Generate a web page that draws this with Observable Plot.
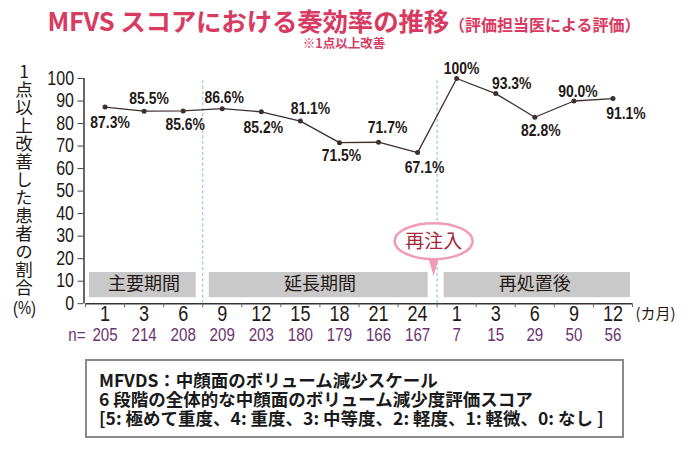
<!DOCTYPE html>
<html>
<head>
<meta charset="utf-8">
<script src="https://cdn.jsdelivr.net/npm/d3@7"></script>
<script src="https://cdn.jsdelivr.net/npm/@observablehq/plot@0.6"></script>
<style>
  body { margin: 0; background: #fff; }
  #wrap { position: relative; width: 688px; height: 449px; font-family: "Noto Sans CJK JP", sans-serif; overflow: hidden; }
  #title { position: absolute; left: 0; top: 5px; width: 688px; text-align: center; color: #d73b62; font-weight: 700; font-size: 25.5px; line-height: 30px; white-space: nowrap; letter-spacing: -0.2px; }
  #title .paren { font-size: 16px; letter-spacing: 0; }
  #subtitle { position: absolute; left: 0; top: 35px; width: 688px; text-align: center; color: #d73b62; font-weight: 700; font-size: 12.5px; line-height: 16px; }
  #chart { position: absolute; left: 0; top: 56px; }
  #note { position: absolute; left: 85px; top: 359px; width: 539px; height: 79px; box-sizing: border-box; border: 2px solid #8a8a8a; padding: 9px 0 0 12px; font-size: 17.5px; line-height: 19px; font-weight: 700; color: #1a1a1a; white-space: nowrap; }
</style>
</head>
<body>
<div id="wrap">
  <div id="title"></div>
  <div id="subtitle"></div>
  <div id="chart"></div>
  <div id="note"></div>
</div>
<script>
// ---- data ----
const monthLabels = ["1", "3", "6", "9", "12", "15", "18", "21", "24", "1", "3", "6", "9", "12"];
const responseRates = [87.3, 85.5, 85.6, 86.6, 85.2, 81.1, 71.5, 71.7, 67.1, 100, 93.3, 82.8, 90.0, 91.1];
const sampleSizes = [205, 214, 208, 209, 203, 180, 179, 166, 167, 7, 15, 29, 50, 56];
const periodNames = ["主要期間", "延長期間", "再処置後"];
const periodStart = [0, 3, 9];
const periodEnd = [2, 8, 13];
const phaseBreaks = [2.5, 8.5];
const yTicks = [0, 10, 20, 30, 40, 50, 60, 70, 80, 90, 100];
const titleMain = "MFVS スコアにおける奏効率の推移";
const titleParen = "（評価担当医による評価）";
const subtitleText = "※1点以上改善";
const yTitle = "1点以上改善した患者の割合";
const yUnit = "(%)";
const xUnit = "(カ月)";
const nPrefix = "n=";
const calloutText = "再注入";
const noteLines = [
  "MFVDS：中顔面のボリューム減少スケール",
  "6 段階の全体的な中顔面のボリューム減少度評価スコア",
  "[5: 極めて重度、4: 重度、3: 中等度、2: 軽度、1: 軽微、0: なし ]"
];

// ---- styling (label offsets in px, box insets in px) ----
const labelOffsets = [[5,15],[5,-13],[2,14],[2,-11],[2,16],[10,-13],[2,13],[9,-15],[7,15],[5,-10],[16,-10],[6,13],[4,-9],[13,15]];
const boxInsets = [[4,6.5],[6.5,9],[7,2]];
const condense = 0.82;

const narrow = "'Liberation Sans',Arial,sans-serif";
const cjk = "'Noto Sans CJK JP',sans-serif";
const ink = "#231815";

document.getElementById("title").innerHTML = titleMain + '<span class="paren">' + titleParen + '</span>';
document.getElementById("subtitle").textContent = subtitleText;
document.getElementById("note").innerHTML = noteLines.map(l => "<div>" + l + "</div>").join("");

const data = monthLabels.map((m, i) => ({i, m, v: responseRates[i], n: sampleSizes[i]}));
const fmt = v => (v === 100 ? "100" : v.toFixed(1)) + "%";

// callout bubble above the re-injection boundary
const callout = (index, scales) => {
  const g = d3.create("svg:g");
  const cx = scales.x(phaseBreaks[1]) - 3;
  const tipY = scales.y(0) - 27;
  const cy = tipY - 35;
  g.append("path")
    .attr("d", `M${cx - 6},${cy + 14} L${cx},${tipY} L${cx + 6},${cy + 14} Z`)
    .attr("fill", "#f29bb6");
  g.append("ellipse")
    .attr("cx", cx).attr("cy", cy).attr("rx", 39).attr("ry", 18)
    .attr("fill", "#fff").attr("stroke", "#f29bb6").attr("stroke-width", 2.5);
  g.append("text")
    .attr("x", cx).attr("y", cy).attr("dy", "0.35em")
    .attr("text-anchor", "middle")
    .attr("font-family", cjk).attr("font-size", 19).attr("fill", "#a6273c")
    .text(calloutText);
  return g.node();
};

// vertical (tategaki) y-axis title
const yTitleMark = (index, scales) => {
  const g = d3.create("svg:g");
  g.append("text")
    .attr("x", scales.x(-0.5) - 61)
    .attr("y", scales.y(100) - 15)
    .attr("text-anchor", "start")
    .attr("font-family", cjk).attr("font-size", 17.5).attr("fill", ink)
    .attr("letter-spacing", 0.5)
    .style("writing-mode", "vertical-rl")
    .style("text-orientation", "upright")
    .text(yTitle);
  return g.node();
};

const marks = [
  // period boxes
  ...periodNames.map((p, k) => Plot.rect([p], {
    x1: periodStart[k] - 0.5, x2: periodEnd[k] + 0.5,
    fill: "#c9c9c9", insetTop: 194, insetBottom: 6,
    insetLeft: boxInsets[k][0], insetRight: boxInsets[k][1]
  })),
  Plot.text(periodNames, {
    x: (d, k) => (periodStart[k] + periodEnd[k]) / 2,
    frameAnchor: "bottom", lineAnchor: "middle", dy: -19, fontSize: 18, fill: ink, fontFamily: cjk
  }),
  // phase separators
  Plot.ruleX(phaseBreaks, {y1: 0, y2: 100, stroke: "#9dc3e2", strokeWidth: 1.2, strokeDasharray: "3,2.5"}),
  // axes lines
  Plot.ruleY([0], {stroke: "#333", strokeWidth: 1.5}),
  Plot.ruleX([-0.5], {y1: 0, y2: 100, stroke: "#333", strokeWidth: 1.5, dx: -1.5}),
  Plot.axisY({ticks: yTicks, tickSize: 6, tickPadding: 4, fontSize: 19.5, fontFamily: narrow, fill: ink, stroke: "#444", label: null, dx: -1.5}),
  Plot.axisX({ticks: d3.range(-0.5, 14, 1), tickSize: 4, tickFormat: () => "", stroke: "#666", label: null}),
  Plot.text(data, {x: "i", text: "m", frameAnchor: "bottom", lineAnchor: "middle", dy: 10, fontSize: 22, fontFamily: narrow, fill: ink}),
  // series
  Plot.line(data, {x: "i", y: "v", stroke: "#3e2f2f", strokeWidth: 1.3}),
  Plot.dot(data, {x: "i", y: "v", r: 2.5, fill: "#3e2f2f"}),
  ...data.map((d, k) => Plot.text([d], {
    x: "i", y: "v", text: dd => fmt(dd.v),
    dx: labelOffsets[k][0], dy: labelOffsets[k][1],
    fontSize: 17, fontWeight: "bold", fontFamily: narrow, fill: ink
  })),
  // sample sizes
  Plot.text(data, {x: "i", text: d => String(d.n), frameAnchor: "bottom", lineAnchor: "middle", dy: 31, fontSize: 18.5, fontFamily: narrow, fill: "#6b3570"}),
  Plot.text([nPrefix], {frameAnchor: "bottom-left", textAnchor: "end", lineAnchor: "middle", dy: 31, fontSize: 18.5, fontFamily: narrow, fill: "#6b3570"}),
  Plot.text([xUnit], {frameAnchor: "bottom-right", textAnchor: "start", lineAnchor: "middle", dx: 3, dy: 10, fontSize: 15, fontFamily: cjk, fill: ink}),
  // y title
  yTitleMark,
  Plot.text([yUnit], {frameAnchor: "bottom-left", textAnchor: "middle", lineAnchor: "middle", dx: -61, dy: 5, fontSize: 18, fontFamily: narrow, fill: ink}),
  callout
];

const chart = Plot.plot({
  width: 688, height: 290,
  marginTop: 22, marginBottom: 42.8, marginLeft: 85, marginRight: 56,
  x: {type: "linear", domain: [-0.5, 13.5], axis: null},
  y: {domain: [0, 100], axis: null},
  style: {background: "transparent", overflow: "visible", color: ink},
  marks
});
document.getElementById("chart").appendChild(chart);

// condense the Latin numeric texts horizontally (no narrow font installed)
chart.querySelectorAll("g").forEach(g => {
  if (g.getAttribute("font-family") !== narrow) return;
  g.querySelectorAll("text").forEach(t => {
    const b = t.getBBox();
    const anchor = getComputedStyle(t).getPropertyValue("text-anchor");
    const ox = anchor === "end" ? b.x + b.width : anchor === "start" ? b.x : b.x + b.width / 2;
    const prev = t.getAttribute("transform") || "";
    t.setAttribute("transform", `${prev} translate(${ox},0) scale(${condense},1) translate(${-ox},0)`);
  });
});
</script>
</body>
</html>
